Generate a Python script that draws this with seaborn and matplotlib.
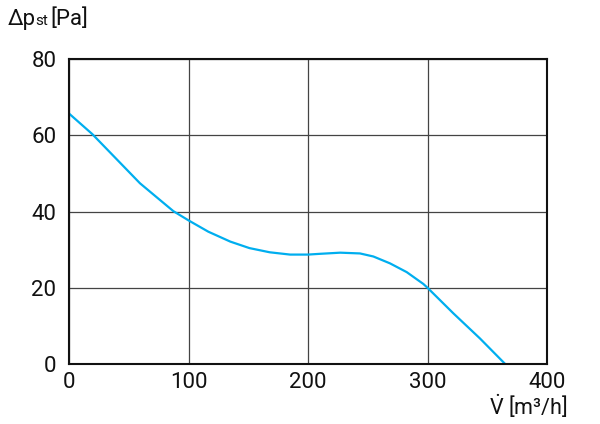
import matplotlib
matplotlib.use("Agg")
import matplotlib.pyplot as plt
import seaborn as sns
import pandas as pd

# values
flow = [0, 19.5, 42.7, 59.4, 76.2, 87.3, 100.4, 116.6, 135, 151, 168, 185, 200, 210, 227, 243.5, 254.7, 268.6, 282.6, 296.5, 300, 321.6, 343.9, 365]
pressure = [65.7, 60.3, 52.8, 47.4, 43.0, 40.1, 37.6, 34.7, 32.1, 30.4, 29.3, 28.7, 28.7, 28.9, 29.2, 29.0, 28.2, 26.4, 24.1, 21.0, 20.0, 13.3, 6.7, 0.0]
xticks = [0, 100, 200, 300, 400]
yticks = [0, 20, 40, 60, 80]

df = pd.DataFrame({"flow": flow, "pressure": pressure})

sns.set_theme(style="white")
plt.rcParams["font.family"] = ["Roboto", "DejaVu Sans"]
plt.rcParams["mathtext.fontset"] = "custom"
plt.rcParams["mathtext.rm"] = "Roboto"
plt.rcParams["mathtext.it"] = "Roboto"

W, H = 600, 424
fig = plt.figure(figsize=(6, 4.24), dpi=100)
ax = fig.add_axes([69 / W, 60 / H, 478 / W, 305 / H])

sns.lineplot(data=df, x="flow", y="pressure", ax=ax, color="#00aeef", linewidth=1.6)

ax.set_xlim(0, 400)
ax.set_ylim(0, 80)
ax.set_xticks(xticks)
ax.set_yticks(yticks)
ax.grid(True, color="#444444", linewidth=0.9)
ax.tick_params(length=0, labelsize=16, colors="#111111")
ax.tick_params(axis="y", pad=9)
ax.tick_params(axis="x", pad=6)
for s in ax.spines.values():
    s.set_color("#111111")
    s.set_linewidth(1.5)
ax.set_xlabel("")
ax.set_ylabel("")

# y axis title
fig.text(8 / W, 1 - 25 / H, "Δp", fontsize=16, va="baseline", ha="left", color="#111111")
fig.text(35 / W, 1 - 25 / H, "st", fontsize=11, va="baseline", ha="left", color="#111111")
fig.text(50 / W, 1 - 25 / H, "[Pa]", fontsize=16, va="baseline", ha="left", color="#111111")

# x axis title
fig.text(567 / W, 9 / H, r"$\dot{\mathrm{V}}$ [m³/h]", fontsize=15.5, va="baseline", ha="right", color="#111111")

fig.savefig("out.png", dpi=100)
